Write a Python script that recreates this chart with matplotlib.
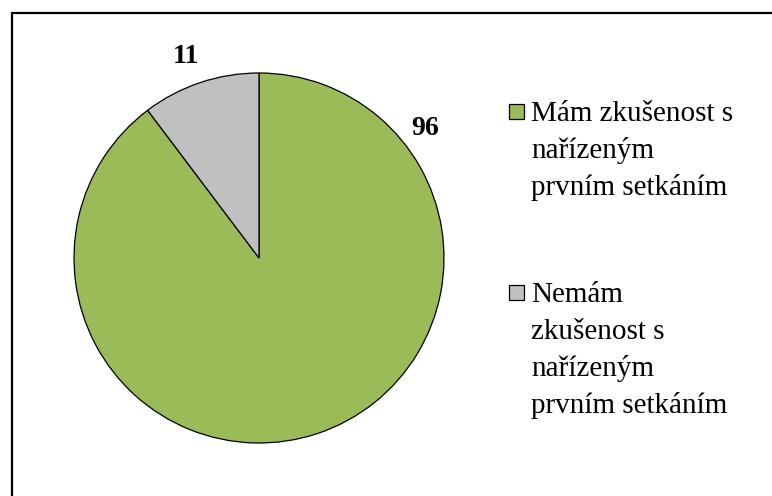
import numpy as np
import matplotlib
matplotlib.use('Agg')
import matplotlib.pyplot as plt
from matplotlib.patches import Rectangle

# Data.
labels = ['Mám zkušenost s\nnařízeným\nprvním setkáním',
          'Nemám\nzkušenost s\nnařízeným\nprvním setkáním']
values = [96, 11]
colors = ['#9BBB59', '#C0C0C0']

# Label positions (angle in degrees, radius) as Excel placed them.
label_angles = [38, 110]
label_radius = [1.14, 1.16]

plt.rcParams['font.family'] = ['Liberation Serif', 'DejaVu Serif']

W, H = 772, 496
fig = plt.figure(figsize=(W / 100, H / 100), dpi=100)

# Chart area border, cut off at the right and bottom edges.
fig.patches.append(Rectangle((12 / W, -0.1), 1.2, 1 - 13 / H + 0.1,
                             transform=fig.transFigure, fill=False,
                             edgecolor='black', linewidth=1.6))

# Pie centred at (259, 258) px with radius 185 px.
cx, cy, r = 259, 258, 185
ax = fig.add_axes([(cx - r) / W, (H - cy - r) / H, 2 * r / W, 2 * r / H])
wedges, _ = ax.pie(values, colors=colors, startangle=90, counterclock=False,
                   radius=1, wedgeprops=dict(edgecolor='black', linewidth=0.9))
ax.set_xlim(-1, 1)
ax.set_ylim(-1, 1)
ax.set_aspect('equal')
ax.axis('off')

for v, a, rr in zip(values, label_angles, label_radius):
    ax.text(rr * np.cos(np.radians(a)), rr * np.sin(np.radians(a)), str(v),
            ha='center', va='center', fontsize=20, fontweight='bold',
            clip_on=False)

# Legend drawn by hand: marker aligned with the first line of each entry.
baselines = [121, 302]
line_step = 37
for lab, c, b in zip(labels, colors, baselines):
    fig.patches.append(Rectangle((509 / W, 1 - (b - 2) / H), 15 / W, 15 / H,
                                 transform=fig.transFigure, facecolor=c,
                                 edgecolor='black', linewidth=0.9))
    for i, line in enumerate(lab.split('\n')):
        fig.text(531 / W, 1 - (b + i * line_step) / H, line, ha='left',
                 va='baseline', fontsize=21)

fig.savefig('out.png', dpi=100)
